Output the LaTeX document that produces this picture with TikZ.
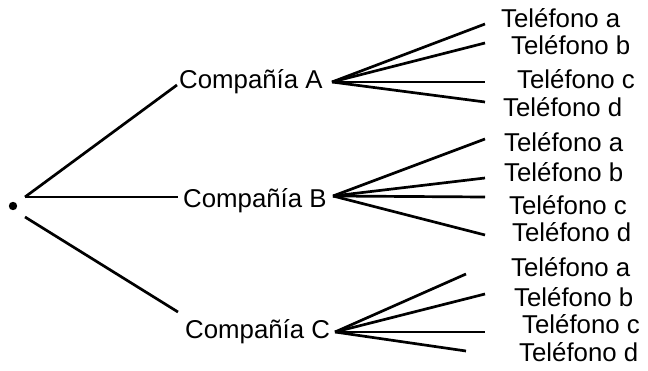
\documentclass[tikz,border=0pt]{standalone}
\usepackage{fontspec}
\setmainfont{Liberation Sans}
\begin{document}
\begin{tikzpicture}[x=1pt,y=-1pt,
  branch/.style={line width=2.7pt},
  lbl/.style={anchor=base west,inner sep=0pt,font=\fontsize{25.8}{30}\selectfont}]
\useasboundingbox (0,0) rectangle (648,371);

% root point
\fill (13,206) circle (4.2);
\coordinate (r1) at (25,197);
\coordinate (r2) at (25,217);

% companies
\node[lbl] (cA) at (179,89) {Compañía A};
\node[lbl] (cB) at (183,208) {Compañía B};
\node[lbl] (cC) at (185,338) {Compañía C};

\coordinate (inA) at (177,85);
\coordinate (inB) at (178,197);
\coordinate (inC) at (178,312);
\draw[branch] (r1) -- (inA);
\draw[branch] (r1) -- (inB);
\draw[branch] (r2) -- (inC);

% phones of company A
\node[lbl] (Aa) at (501,28) {Teléfono a};
\node[lbl] (Ab) at (511,55) {Teléfono b};
\node[lbl] (Ac) at (517,89) {Teléfono c};
\node[lbl] (Ad) at (503,117) {Teléfono d};
\coordinate (oA) at (332,82);
\coordinate (eAa) at (485,24);
\coordinate (eAb) at (485,43);
\coordinate (eAc) at (485,82);
\coordinate (eAd) at (485,102);
\foreach \k in {a,b,c,d} \draw[branch] (oA) -- (eA\k);

% phones of company B
\node[lbl] (Ba) at (504,152) {Teléfono a};
\node[lbl] (Bb) at (504,182) {Teléfono b};
\node[lbl] (Bc) at (509,215) {Teléfono c};
\node[lbl] (Bd) at (512,242) {Teléfono d};
\coordinate (oB) at (333,196);
\coordinate (eBa) at (485,139);
\coordinate (eBb) at (485,178);
\coordinate (eBc) at (485,197);
\coordinate (eBd) at (485,235);
\foreach \k in {a,b,c,d} \draw[branch] (oB) -- (eB\k);

% phones of company C
\node[lbl] (Ca) at (511,277) {Teléfono a};
\node[lbl] (Cb) at (514,307) {Teléfono b};
\node[lbl] (Cc) at (522,334) {Teléfono c};
\node[lbl] (Cd) at (519,362) {Teléfono d};
\coordinate (oC) at (335,332);
\coordinate (eCa) at (466,274);
\coordinate (eCb) at (485,294);
\coordinate (eCc) at (485,332);
\coordinate (eCd) at (466,351);
\foreach \k in {a,b,c,d} \draw[branch] (oC) -- (eC\k);
\end{tikzpicture}
\end{document}
